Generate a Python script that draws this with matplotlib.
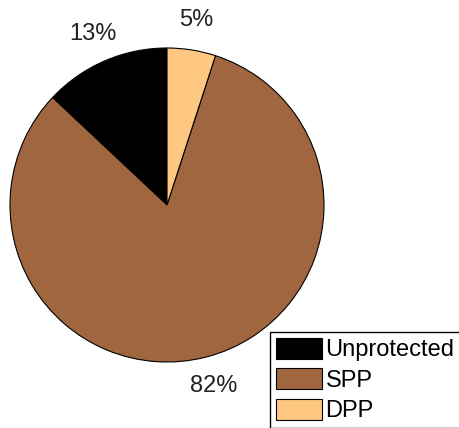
import matplotlib
matplotlib.use("Agg")
from matplotlib import pyplot as plt

plt.rcParams['font.family'] = ['Liberation Sans', 'DejaVu Sans']

# data
categories = ['Unprotected', 'SPP', 'DPP']
shares = [13, 82, 5]
pct_labels = ['13%', '82%', '5%']
colors = ['#000000', '#A0663F', '#FFC882']

W, H = 459, 428
fig = plt.figure(figsize=(W / 100, H / 100), dpi=100)

# pie centre ~ (167, 205) px, radius ~157 px
cx, cy, r = 167, 205, 157
ax = fig.add_axes([(cx - r) / W, (H - cy - r) / H, 2 * r / W, 2 * r / H])
wedges, texts = ax.pie(shares, labels=pct_labels, colors=colors,
                       startangle=90, counterclock=True, radius=1.0,
                       labeldistance=1.19,
                       wedgeprops=dict(edgecolor='black', linewidth=0.8),
                       textprops=dict(fontsize=17, color='#222222'))
for t in texts:
    t.set_ha('center')
    t.set_va('center')
ax.set_xlim(-1, 1)
ax.set_ylim(-1, 1)
ax.set_aspect('equal')

leg = fig.legend(wedges, categories, loc='upper left',
                 bbox_to_anchor=(270 / W, 1 - 332 / H),
                 bbox_transform=fig.transFigure,
                 fancybox=False, framealpha=1, edgecolor='black',
                 fontsize=17, handlelength=1.95, handleheight=0.97,
                 handletextpad=0.15, labelspacing=0.3, borderpad=0.25,
                 borderaxespad=0)
leg.get_frame().set_linewidth(1.0)

fig.savefig('out.png', dpi=100)
